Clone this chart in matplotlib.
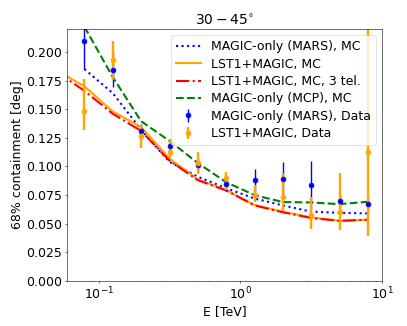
import matplotlib
matplotlib.use('Agg')
import matplotlib.pyplot as plt
import numpy as np

# energy bin centres [TeV]
e_mc = 10 ** np.array([-1.3, -1.1, -0.9, -0.7, -0.5, -0.3, -0.1, 0.1, 0.3, 0.5, 0.7, 0.9])
e_data = 10 ** np.array([-1.1, -0.9, -0.7, -0.5, -0.3, -0.1, 0.1, 0.3, 0.5, 0.7, 0.9])

# MC curves (68% containment, deg)
mars_mc = [np.nan, 0.185, 0.164, 0.132, 0.104, 0.091, 0.081, 0.072, 0.066, 0.0605, 0.0596, 0.059]
lst_mc = [0.184, 0.170, 0.148, 0.1345, 0.107, 0.0887, 0.0795, 0.0663, 0.0605, 0.0555, 0.0526, 0.0535]
lst_mc_3tel = [0.183, 0.166, 0.146, 0.131, 0.105, 0.088, 0.079, 0.066, 0.060, 0.055, 0.0525, 0.0535]
mcp_mc = [np.nan, 0.222, 0.178, 0.1395, 0.1223, 0.103, 0.0862, 0.075, 0.0689, 0.0686, 0.0671, 0.0692]

# data points
mars_data = [0.2095, 0.1846, 0.131, 0.1177, 0.101, 0.0843, 0.088, 0.0887, 0.0837, 0.0698, 0.0669]
mars_err = [0.024, 0.015, 0.006, 0.006, 0.006, 0.006, 0.010, 0.015, 0.021, 0.006, 0.006]
lst_data = [0.148, 0.1927, 0.127, 0.1128, 0.1026, 0.0896, 0.075, 0.0735, 0.0576, 0.0605, 0.113]
lst_err_lo = [0.016, 0.017, 0.011, 0.005, 0.009, 0.010, 0.006, 0.012, 0.012, 0.016, 0.074]
lst_err_hi = [0.028, 0.017, 0.009, 0.010, 0.010, 0.006, 0.009, 0.021, 0.016, 0.034, 0.120]

plt.rcParams['font.size'] = 18

fig = plt.figure(figsize=(8.14, 6.52), dpi=50)
ax = fig.add_axes([0.165, 0.138, 0.774, 0.773])

ax.plot(e_mc, mars_mc, ':', color='blue', lw=3, label='MAGIC-only (MARS), MC')
ax.plot(e_mc, lst_mc, '-', color='orange', lw=3, label='LST1+MAGIC, MC')
ax.plot(e_mc, lst_mc_3tel, '-.', color='red', lw=3, label='LST1+MAGIC, MC, 3 tel.')
ax.plot(e_mc, mcp_mc, '--', color='green', lw=3, label='MAGIC-only (MCP), MC')
ax.errorbar(e_data, mars_data, yerr=mars_err, fmt='o', color='blue', ms=7, lw=2,
            label='MAGIC-only (MARS), Data')
ax.errorbar(e_data, lst_data, yerr=[lst_err_lo, lst_err_hi], fmt='o', color='orange', ms=7, lw=3.5,
            label='LST1+MAGIC, Data')

ax.set_xscale('log')
ax.set_xlim(0.06, 10)
ax.set_ylim(0, 0.22)
ax.set_xlabel('E [TeV]')
ax.set_ylabel('68% containment [deg]')
ax.set_title(r'$30-45^{\circ}$', fontsize=20)
ax.legend(loc='upper right', labelspacing=0.35)

fig.savefig('out.png', dpi=50)
